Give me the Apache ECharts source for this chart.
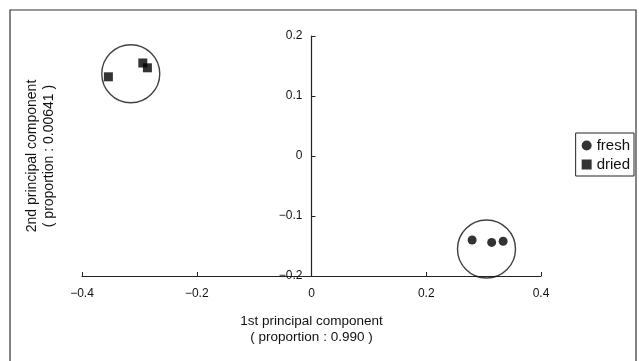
<!DOCTYPE html>
<html>
<head>
<meta charset="utf-8">
<script src="https://cdn.jsdelivr.net/npm/echarts@6/dist/echarts.min.js"></script>
<style>
  html, body { margin: 0; padding: 0; background: #fff; }
  #main { width: 639px; height: 361px; }
</style>
</head>
<body>
<div id="main"></div>
<script>
// PCA scores
var fresh = [[0.280, -0.140], [0.314, -0.144], [0.334, -0.142]];
var dried = [[-0.354, 0.132], [-0.294, 0.155], [-0.286, 0.147]];
// enclosing circles (centres)
var groupCentres = [[-0.315, 0.137], [0.305, -0.155]];
var xTicks = [-0.4, -0.2, 0, 0.2, 0.4];
var yTicks = [-0.2, -0.1, 0, 0.1, 0.2];

var fontFam = 'Liberation Sans, Arial, sans-serif';
var gridLeft = 82, gridRight = 98;

function fmt(v) {
    return String(v).replace('-', '\u2212');
}

var myChart = echarts.init(document.getElementById('main'));
// y axis sits on x = 0 (middle of the x range)
var yOffset = -(639 - gridLeft - gridRight) / 2;

myChart.setOption({
    backgroundColor: '#fff',
    animation: false,
    textStyle: { fontFamily: fontFam, color: '#111' },
    grid: { left: gridLeft, right: gridRight, top: 36, bottom: 85, containLabel: false, outerBoundsMode: 'none' },
    legend: {
        data: [
            { name: 'fresh', icon: 'circle' },
            { name: 'dried', icon: 'rect' }
        ],
        orient: 'vertical',
        right: 5,
        top: 133,
        itemWidth: 10,
        itemHeight: 10,
        itemGap: 4,
        padding: [5, 4, 4, 6],
        borderColor: '#222',
        borderWidth: 1,
        textStyle: { fontSize: 15, color: '#111', fontFamily: fontFam, padding: [0, 0, 0, 0] }
    },
    xAxis: {
        type: 'value',
        min: xTicks[0],
        max: xTicks[xTicks.length - 1],
        interval: 0.2,
        axisLine: { onZero: false, lineStyle: { color: '#222', width: 1.2 } },
        axisTick: { inside: true, length: 4, lineStyle: { color: '#222' } },
        axisLabel: { formatter: fmt, fontSize: 12, color: '#111', margin: 12 },
        splitLine: { show: false },
        name: '1st principal component\n( proportion : 0.990 )',
        nameLocation: 'middle',
        nameGap: 37,
        nameTextStyle: { fontSize: 13.5, color: '#111', lineHeight: 16 }
    },
    yAxis: {
        type: 'value',
        min: yTicks[0],
        max: yTicks[yTicks.length - 1],
        interval: 0.1,
        offset: yOffset,
        axisLine: { onZero: false, lineStyle: { color: '#222', width: 1.2 } },
        axisTick: { inside: true, length: 4, lineStyle: { color: '#222' } },
        axisLabel: { formatter: fmt, fontSize: 12, color: '#111', margin: 9 },
        splitLine: { show: false },
        name: '2nd principal component\n( proportion : 0.00641 )',
        nameLocation: 'middle',
        nameGap: 254,
        nameRotate: 90,
        nameTextStyle: { fontSize: 14, color: '#111', lineHeight: 17 }
    },
    graphic: [{
        type: 'rect',
        shape: { x: 10, y: 10, width: 626, height: 360 },
        style: { fill: 'none', stroke: '#333', lineWidth: 1.2 },
        silent: true
    }],
    series: [
        {
            name: 'groups',
            type: 'scatter',
            data: groupCentres,
            symbol: 'circle',
            symbolSize: 58,
            itemStyle: { color: 'rgba(0,0,0,0)', borderColor: '#111', borderWidth: 1.4 },
            silent: true,
            z: 1
        },
        {
            name: 'fresh',
            type: 'scatter',
            data: fresh,
            symbol: 'circle',
            symbolSize: 9,
            itemStyle: { color: '#000' },
            z: 3
        },
        {
            name: 'dried',
            type: 'scatter',
            data: dried,
            symbol: 'rect',
            symbolSize: 9,
            itemStyle: { color: '#000' },
            z: 3
        }
    ]
});
</script>
</body>
</html>
